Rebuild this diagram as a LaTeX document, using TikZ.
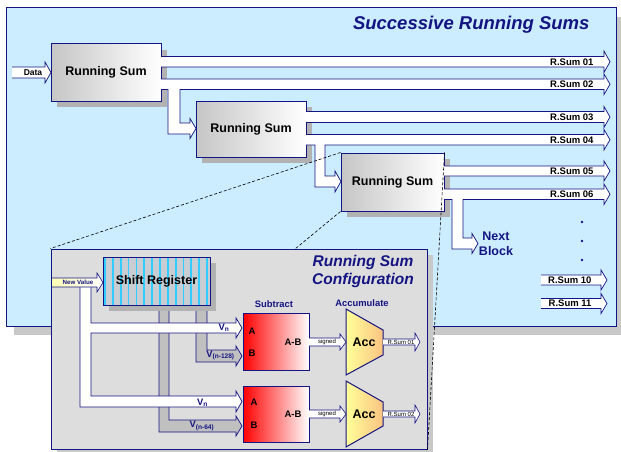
\documentclass[tikz,border=0pt]{standalone}
\usepackage{fontspec}
\setmainfont{Liberation Sans}
\usetikzlibrary{shadows}
\definecolor{navyline}{RGB}{20,20,130}
\definecolor{panelblue}{RGB}{204,236,255}
\definecolor{panelgray}{RGB}{221,221,221}
\definecolor{shadowgray}{RGB}{178,178,178}
\definecolor{lightshadow}{RGB}{200,200,200}
\definecolor{tapgray}{RGB}{192,192,192}
\definecolor{stripecyan}{RGB}{51,204,255}
\definecolor{regbg}{RGB}{200,205,212}
\definecolor{accyellow}{RGB}{255,255,153}
\definecolor{accorange}{RGB}{250,195,130}
\definecolor{newvalue}{RGB}{255,255,180}

\begin{document}
\begin{tikzpicture}[x=1pt,y=-1pt,
  sumbox/.style={draw=navyline, line width=1pt, left color=gray!45, right color=white,
    minimum width=110pt, minimum height=57pt, font=\bfseries\fontsize{12.5}{15}\selectfont,
    drop shadow={shadow xshift=6pt, shadow yshift=-6pt, fill=shadowgray, opacity=1}},
  subbox/.style={draw=navyline, line width=1pt, left color=red, right color=white,
    minimum width=66pt, minimum height=57pt},
  regbox/.style={draw=navyline, line width=1pt, fill=regbg, minimum width=107pt, minimum height=48pt,
    font=\bfseries\fontsize{12.5}{15}\selectfont,
    drop shadow={shadow xshift=6pt, shadow yshift=-6pt, fill=shadowgray, opacity=1},
    path picture={\foreach \i in {0,...,13}
      \draw[stripecyan, line width=1.8pt] ([xshift=\i*7.85pt+2pt]path picture bounding box.north west)
        -- ([xshift=\i*7.85pt+2pt]path picture bounding box.south west);}},
  bus/.style={fill=white, draw=navyline, line width=0.7pt},
  tap/.style={fill=tapgray, draw=navyline, line width=0.7pt},
  outlabel/.style={anchor=east, font=\bfseries\fontsize{9.5}{11}\selectfont},
  bluelabel/.style={text=navyline, font=\bfseries\fontsize{9.4}{11}\selectfont},
  tiny/.style={font=\fontsize{6}{7}\selectfont}]

\useasboundingbox (0,0) rectangle (621,452);

\node[draw=navyline, line width=1pt, fill=panelblue, minimum width=610pt, minimum height=318pt,
  drop shadow={shadow xshift=8pt, shadow yshift=-9pt, fill=lightshadow, opacity=1}] (main) at (311,167) {};
\node[anchor=east, text=navyline, font=\bfseries\itshape\fontsize{18.5}{22}\selectfont] (title) at (593,25) {Successive Running Sums};

\node[sumbox] (rs1) at (106,72.5) {Running Sum};
\node[sumbox, minimum height=56pt] (rs2) at (251,129) {Running Sum};
\node[sumbox, minimum width=103pt, minimum height=58pt] (rs3) at (392.5,182) {Running Sum};

% input and output buses
\path[bus] (12,67) -- (45,67) -- (45,62) -- (51,72.5) -- (45,83) -- (45,78) -- (12,78);
\node[font=\bfseries\fontsize{8.5}{10}\selectfont] (data) at (33,72.5) {Data};

\path[bus] (161,56.5) -- (604,56.5) -- (604,51) -- (610,61.75) -- (604,72.5) -- (604,67) -- (161,67);
\path[bus] (161,79) -- (604,79) -- (604,74) -- (610,84.25) -- (604,94.5) -- (604,89.5) -- (180,89.5)
  -- (180,123) -- (190,123) -- (190,118.5) -- (196,128.5) -- (190,138.5) -- (190,134) -- (168,134) -- (168,89.5) -- (161,89.5);
\path[bus] (306,111.5) -- (604,111.5) -- (604,106.5) -- (610,117) -- (604,127.5) -- (604,122.5) -- (306,122.5);
\path[bus] (306,134.5) -- (604,134.5) -- (604,129.5) -- (610,139.75) -- (604,150) -- (604,145) -- (325,145)
  -- (325,176) -- (335,176) -- (335,171) -- (341,181.5) -- (335,192) -- (335,187) -- (315,187) -- (315,145) -- (306,145);
\path[bus] (444,166) -- (604,166) -- (604,161) -- (610,171) -- (604,181) -- (604,176) -- (444,176);
\path[bus] (444,189) -- (604,189) -- (604,184) -- (610,194.25) -- (604,204.5) -- (604,199.5) -- (463,199.5)
  -- (463,238) -- (472,238) -- (472,233.5) -- (478,243.5) -- (472,253.5) -- (472,249) -- (452,249) -- (452,199.5) -- (444,199.5);
\path[bus] (541,275) -- (601,275) -- (601,270) -- (607,280) -- (601,290) -- (601,285) -- (541,285);
\path[bus] (541,298.5) -- (601,298.5) -- (601,293.5) -- (607,303.5) -- (601,313.5) -- (601,308.5) -- (541,308.5);

\node[outlabel] (o1) at (597,61.75) {R.Sum 01};
\node[outlabel] (o2) at (597,84.5) {R.Sum 02};
\node[outlabel] (o3) at (597,117) {R.Sum 03};
\node[outlabel] (o4) at (597,140) {R.Sum 04};
\node[outlabel] (o5) at (597,171) {R.Sum 05};
\node[outlabel] (o6) at (597,194.25) {R.Sum 06};
\node[outlabel] (o10) at (595,280) {R.Sum 10};
\node[outlabel] (o11) at (595,303.5) {R.Sum 11};
\node[text=navyline, align=center, font=\bfseries\fontsize{12.5}{15}\selectfont] (next) at (496,243.5) {Next\\Block};
\fill[navyline] (582,222) circle (1.3pt) (582,241) circle (1.3pt) (582,260) circle (1.3pt);

% configuration
\node[draw=navyline, line width=1pt, fill=panelgray, minimum width=376pt, minimum height=200pt,
  drop shadow={shadow xshift=6pt, shadow yshift=-6pt, fill=lightshadow, opacity=1}] (cfg) at (239,349) {};
\coordinate (cfgtop) at (295,249);
\draw[dash pattern=on 3pt off 2pt, line width=0.6pt] (rs3.north west) -- (cfg.north west);
\draw[dash pattern=on 3pt off 2pt, line width=0.6pt] (rs3.south west) -- (cfgtop);
\draw[dash pattern=on 3pt off 2pt, line width=0.6pt] (rs3.north east) -- (cfg.south east);
\node[text=navyline, align=center, font=\bfseries\itshape\fontsize{15.5}{18}\selectfont] (cfgtitle) at (363,271) {Running Sum\\Configuration};

\path[tap] (169,305) -- (169,420) -- (236,420) -- (236,416) -- (242,426) -- (236,436) -- (236,432) -- (159,432) -- (159,305);
\path[tap] (207,305) -- (207,350) -- (236,350) -- (236,346) -- (242,356) -- (236,366) -- (236,362) -- (196,362) -- (196,305);
\node[regbox] (shreg) at (156.5,281) {Shift Register};
\path[bus] (91,287) -- (91,323) -- (236,323) -- (236,318) -- (242,328) -- (236,338) -- (236,333) -- (91,333)
  -- (91,396) -- (236,396) -- (236,391) -- (242,401.5) -- (236,412) -- (236,407) -- (80,407) -- (80,287);
\path[draw=navyline, line width=0.6pt, left color=newvalue, right color=white]
  (52,278) -- (97,278) -- (97,273) -- (103,282.5) -- (97,292) -- (97,287) -- (52,287);
\node[text=navyline, font=\bfseries\fontsize{6.2}{7}\selectfont] (nv) at (78,282.5) {New Value};

\node[bluelabel] (vn1) at (224,328) {V\textsubscript{n}};
\node[bluelabel] (vb1) at (220.5,355.5) {V\textsubscript{(n-128)}};
\node[bluelabel] (vn2) at (202.5,402.5) {V\textsubscript{n}};
\node[bluelabel] (vb2) at (202,426) {V\textsubscript{(n-64)}};

\node[subbox] (sub1) at (276,341.5) {};
\node[subbox, minimum height=56pt] (sub2) at (276,414) {};
\node[bluelabel] (subt) at (274,304) {Subtract};
\node[bluelabel] (accu) at (362,303) {Accumulate};
\node[font=\bfseries\fontsize{9.5}{11}\selectfont] (a1) at (252,331) {A};
\node[font=\bfseries\fontsize{9.5}{11}\selectfont] (b1) at (252,353) {B};
\node[font=\bfseries\fontsize{9.5}{11}\selectfont] (ab1) at (293,342) {A-B};
\node[font=\bfseries\fontsize{9.5}{11}\selectfont] (a2) at (254,402) {A};
\node[font=\bfseries\fontsize{9.5}{11}\selectfont] (b2) at (254,425) {B};
\node[font=\bfseries\fontsize{9.5}{11}\selectfont] (ab2) at (293,414) {A-B};

\path[bus, line width=0.6pt] (309,338) -- (340,338) -- (340,334) -- (346,342) -- (340,350) -- (340,346) -- (309,346);
\path[bus, line width=0.6pt] (309,410) -- (340,410) -- (340,406) -- (346,414) -- (340,422) -- (340,418) -- (309,418);
\node[tiny] (sg1) at (327,342) {signed};
\node[tiny] (sg2) at (327,414) {signed};

\path[draw=navyline, line width=1pt, left color=accyellow, right color=accorange] (346,309) -- (383,330) -- (383,355) -- (346,375) -- cycle;
\path[draw=navyline, line width=1pt, left color=accyellow, right color=accorange] (346,381) -- (383,402) -- (383,426) -- (346,447) -- cycle;
\node[font=\bfseries\fontsize{12.5}{14}\selectfont] (acc1) at (364,342) {Acc};
\node[font=\bfseries\fontsize{12.5}{14}\selectfont] (acc2) at (364,414) {Acc};

\path[bus, line width=0.6pt] (383,339) -- (415,339) -- (415,333) -- (420,342) -- (415,351) -- (415,345) -- (383,345);
\path[bus, line width=0.6pt] (383,411) -- (415,411) -- (415,405) -- (420,414) -- (415,423) -- (415,417) -- (383,417);
\node[tiny] (r1) at (401,342) {R.Sum 01};
\node[tiny] (r2) at (401,414) {R.Sum 02};
\end{tikzpicture}
\end{document}
